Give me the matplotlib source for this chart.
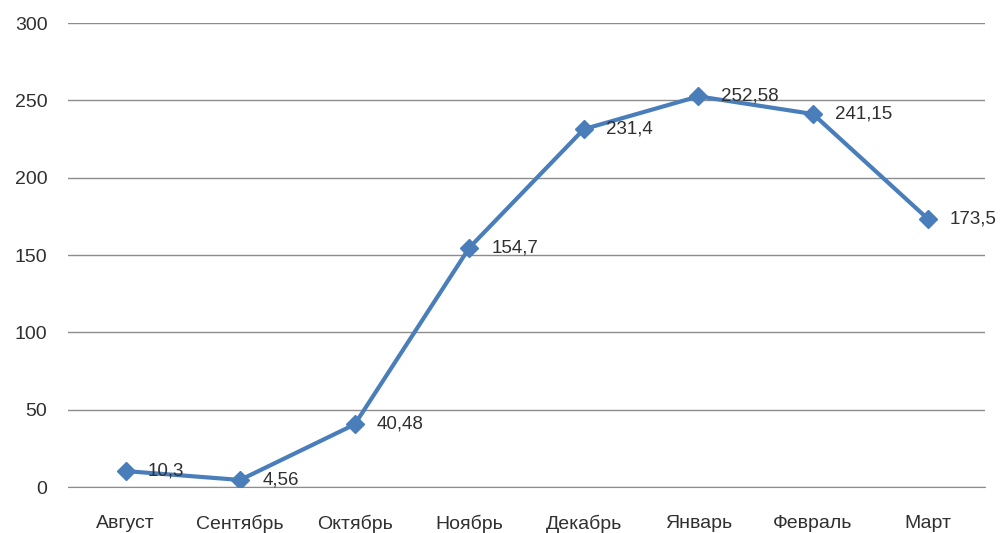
import matplotlib.pyplot as plt

# data
months = ['Август', 'Сентябрь', 'Октябрь', 'Ноябрь', 'Декабрь', 'Январь', 'Февраль', 'Март']
values = [10.3, 4.56, 40.48, 154.7, 231.4, 252.58, 241.15, 173.5]
labels = ['10,3', '4,56', '40,48', '154,7', '231,4', '252,58', '241,15', '173,5']
yticks = [0, 50, 100, 150, 200, 250, 300]

LINE_COLOR = '#4a7ebb'
GRID_COLOR = '#8c8c8c'
TEXT_COLOR = '#303030'

plt.rcParams['font.family'] = ['Liberation Sans', 'DejaVu Sans']

fig = plt.figure(figsize=(10.04, 5.33), dpi=100)
ax = fig.add_axes([0.068, 0.0863, 0.913, 0.8705])

x = list(range(len(months)))
ax.plot(x, values, color=LINE_COLOR, linewidth=3, marker='D', markersize=9,
        zorder=3)

for xi, v, lab in zip(x, values, labels):
    ax.annotate(lab, (xi, v), xytext=(16, 0), textcoords='offset points',
                va='center', ha='left', fontsize=13.5, color=TEXT_COLOR, zorder=4)

ax.set_xlim(-0.5, 7.5)
ax.set_ylim(0, 300)
ax.set_yticks(yticks)
ax.set_xticks(x)
ax.set_xticklabels(months)

ax.grid(axis='y', color=GRID_COLOR, linewidth=1)
ax.set_axisbelow(True)
for side in ['top', 'right', 'left']:
    ax.spines[side].set_visible(False)
ax.spines['bottom'].set_color(GRID_COLOR)
ax.tick_params(length=0, labelsize=14, colors=TEXT_COLOR)
ax.tick_params(axis='x', pad=20)
ax.tick_params(axis='y', pad=15)

fig.savefig('out.png', dpi=100)
